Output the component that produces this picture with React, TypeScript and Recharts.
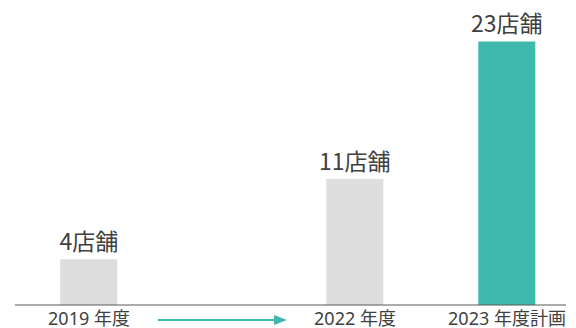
import { BarChart, Bar, XAxis, YAxis, Cell, LabelList, Rectangle } from 'recharts';

// 12 slots on the x axis; blank slots keep the uneven spacing of the original slide
const categories = ['2019 年度', '', '', '', '', '', '', '2022 年度', '', '', '', '2023 年度計画'];
const stores: (number | null)[] = [4, null, null, null, null, null, null, 11, null, null, null, 23];
const planned = [false, false, false, false, false, false, false, false, false, false, false, true];

const data = categories.map((name, i) => ({ name, stores: stores[i], planned: planned[i] }));

const TEXT = '#404040';
const GRAY = '#dcdddc';
const TEAL = '#3fb9ad';
const FONT = '"Noto Sans CJK JP", "Noto Sans", sans-serif';
const TICK_FONT = '"Noto Sans", "Noto Sans CJK JP", sans-serif';

const WideBar = (props: any) => {
  const { x, width } = props;
  const w = 57;
  return <Rectangle {...props} x={x + width / 2 - w / 2} width={w} />;
};

const Tick = (props: any) => {
  const { x, y, payload, index } = props;
  return (
    <g>
      {payload.value ? (
        <text x={x} y={y + 12} textAnchor='middle' fill={TEXT} fontSize={18} fontFamily={TICK_FONT}>
          {payload.value}
        </text>
      ) : null}
      {index === 0 ? (
        <g>
          <line x1={x + 69} x2={x + 186} y1={y + 7} y2={y + 7} stroke={TEAL} strokeWidth={2} />
          <polygon
            points={`${x + 185},${y + 2} ${x + 198},${y + 7} ${x + 185},${y + 12}`}
            fill={TEAL}
          />
        </g>
      ) : null}
    </g>
  );
};

export default function App() {
  return (
    <div style={{ position: 'absolute', left: 0, top: 0, background: '#fff' }}>
      <BarChart
        width={576}
        height={328}
        data={data}
        margin={{ top: 7, right: 10, bottom: 0, left: 15 }}
      >
        <XAxis
          dataKey='name'
          interval={0}
          tickLine={false}
          axisLine={{ stroke: '#595959', strokeWidth: 1 }}
          padding={{ left: 55, right: 40 }}
          height={23}
          tick={<Tick />}
        />
        <YAxis hide domain={[0, 26]} />
        <Bar dataKey='stores' isAnimationActive={false} shape={<WideBar />}>
          {data.map((d, i) => (
            <Cell key={i} fill={d.planned ? TEAL : GRAY} />
          ))}
          <LabelList
            dataKey='stores'
            position='top'
            offset={9}
            formatter={(v: any) => (v == null ? '' : `${v}店舗`)}
            fill={TEXT}
            fontSize={23}
            fontFamily={FONT}
          />
        </Bar>
      </BarChart>
    </div>
  );
}
